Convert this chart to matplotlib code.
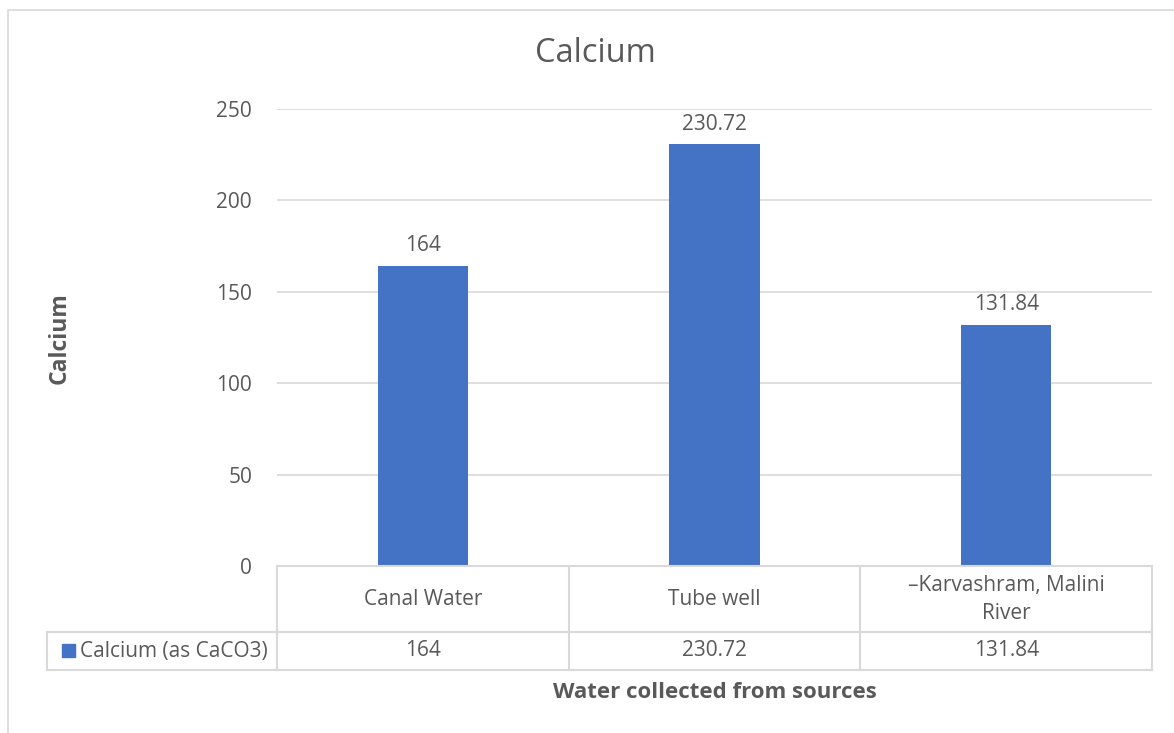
import matplotlib
matplotlib.use("Agg")
import matplotlib.pyplot as plt
from matplotlib.patches import Rectangle
from matplotlib.lines import Line2D

categories = ["Canal Water", "Tube well", "\u2013Karvashram, Malini\nRiver"]
values = [164, 230.72, 131.84]
value_labels = ["164", "230.72", "131.84"]
series_name = "Calcium (as CaCO3)"
yticks = [0, 50, 100, 150, 200, 250]

plt.rcParams['font.family'] = ['Open Sans', 'DejaVu Sans']
TXT = '#595959'
GRID = '#d9d9d9'
BAR = '#4472c4'
FS = 15

W, H = 1174, 733
fig = plt.figure(figsize=(W/100, H/100), dpi=100)

def fx(px): return px / W
def fy(py): return 1 - py / H

# outer chart border
fig.add_artist(Rectangle((fx(8), fy(740)), fx(1200), fy(10) - fy(740),
                         transform=fig.transFigure, fill=False, edgecolor=GRID, lw=1.2))

left, right, top, bottom = 277, 1152, 109, 566
ax = fig.add_axes([fx(left), fy(bottom), fx(right - left), fy(top) - fy(bottom)])
x = list(range(len(categories)))
ax.bar(x, values, width=0.31, color=BAR, zorder=3)
ax.set_xlim(-0.5, len(categories) - 0.5)
ax.set_ylim(0, 250)
ax.set_yticks(yticks)
ax.set_yticklabels([str(t) for t in yticks], fontsize=FS, color=TXT)
ax.tick_params(axis='y', length=0, pad=18)
ax.set_xticks([])
ax.grid(axis='y', color=GRID, lw=1.2, zorder=0)
for s in ax.spines.values():
    s.set_visible(False)
for xi, v, lab in zip(x, values, value_labels):
    ax.annotate(lab, (xi, v), xytext=(0, 7), textcoords='offset points',
                ha='center', va='bottom', fontsize=FS, color=TXT)

# data table
t_top, t_mid, t_bot = 566, 632, 670
leg_left = 47
colw = (right - left) / len(categories)
lw = 1.5
def hline(y, x0, x1):
    fig.add_artist(Line2D([fx(x0), fx(x1)], [fy(y), fy(y)], transform=fig.transFigure, color=GRID, lw=lw))
def vline(xp, y0, y1):
    fig.add_artist(Line2D([fx(xp), fx(xp)], [fy(y0), fy(y1)], transform=fig.transFigure, color=GRID, lw=lw))
hline(t_top, left, right)
hline(t_mid, leg_left, right)
hline(t_bot, leg_left, right)
vline(leg_left, t_mid, t_bot)
for i in range(len(categories) + 1):
    vline(left + i * colw, t_top, t_bot)
for i, (c, lab) in enumerate(zip(categories, value_labels)):
    cx = left + (i + 0.5) * colw
    fig.text(fx(cx), fy((t_top + t_mid) / 2 + 0.5), c, ha='center', va='center',
             fontsize=FS, color=TXT, linespacing=1.4)
    fig.text(fx(cx), fy((t_mid + t_bot) / 2), lab, ha='center', va='center',
             fontsize=FS, color=TXT)
# legend key
fig.add_artist(Rectangle((fx(62), fy(657)), fx(13), fy(644) - fy(657),
                         transform=fig.transFigure, color=BAR))
fig.text(fx(80), fy((t_mid + t_bot) / 2), series_name, ha='left', va='center',
         fontsize=FS, color=TXT)

# titles
fig.text(fx(595), fy(53), "Calcium", ha='center', va='center', fontsize=23.5, color=TXT)
fig.text(fx(60), fy(338), "Calcium", ha='center', va='center', rotation=90,
         fontsize=16.5, fontweight='bold', color=TXT)
fig.text(fx(715), fy(692), "Water collected from sources", ha='center', va='center',
         fontsize=16, fontweight='bold', color=TXT)

fig.savefig("out.png", dpi=100, facecolor='white')
